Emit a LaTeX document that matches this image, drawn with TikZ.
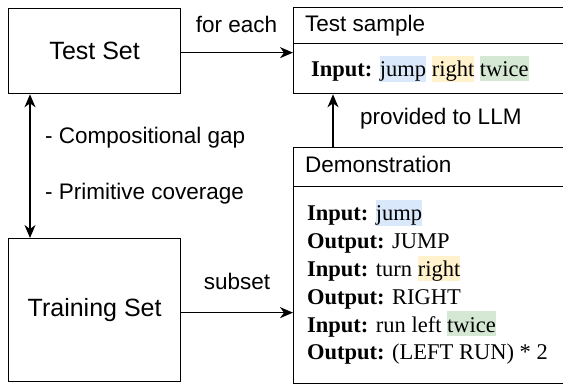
\documentclass[tikz,border=0pt]{standalone}
\usepackage{fontspec}
\setmainfont{Liberation Serif}
\newfontfamily\arialf{Liberation Sans}
\usetikzlibrary{arrows.meta,calc}
\definecolor{hlblue}{HTML}{DAE8FC}
\definecolor{hlorange}{HTML}{FFF2CC}
\definecolor{hlgreen}{HTML}{D5E8D4}
\newcommand{\hlt}[2]{{\setlength{\fboxsep}{0pt}\colorbox{#1}{\rule[-4pt]{0pt}{25pt}#2}}}
\tikzset{
  boxst/.style={draw, line width=1.3pt, inner sep=0pt, anchor=north west, font=\arialf\fontsize{25}{30}\selectfont},
  lbl/.style={inner sep=0pt, font=\arialf\fontsize{22.5}{27}\selectfont},
  txt/.style={inner sep=0pt, anchor=base west, font=\fontsize{22.5}{27}\selectfont},
  arr/.style={line width=1.3pt, -{Stealth[length=13pt,width=11pt,inset=4pt]}},
  darr/.style={line width=1.3pt, {Stealth[length=13pt,width=11pt,inset=4pt]}-{Stealth[length=13pt,width=11pt,inset=4pt]}},
}
\begin{document}
\begin{tikzpicture}[x=1pt,y=-1pt]
\useasboundingbox (0,0) rectangle (563,385);
\clip (0,0) rectangle (563,385);
% left boxes
\node[boxst, minimum width=172pt, minimum height=85pt] (testset) at (8,8) {Test Set};
\node[boxst, minimum width=172pt, minimum height=143pt] (trainset) at (8,238) {Training Set};
% test sample
\node[boxst, minimum width=285pt, minimum height=36pt] (tshead) at (293,7) {};
\node[boxst, minimum width=285pt, minimum height=50pt] (tsbody) at (293,43) {};
\node[lbl, anchor=base west] (tstitle) at (305,32) {Test sample};
\node[txt] (tsin) at (311,77) {\textbf{Input:} \hlt{hlblue}{jump} \hlt{hlorange}{right} \hlt{hlgreen}{twice}};
% demonstration
\node[boxst, minimum width=285pt, minimum height=39pt] (dmhead) at (293,147) {};
\node[boxst, minimum width=285pt, minimum height=197pt] (dmbody) at (293,186) {};
\node[lbl, anchor=base west] (dmtitle) at (305,173) {Demonstration};
\node[txt] (d1) at (307,221) {\textbf{Input:} \hlt{hlblue}{jump}};
\node[txt] (d2) at (307,249) {\textbf{Output:} JUMP};
\node[txt] (d3) at (307,276.5) {\textbf{Input:} turn \hlt{hlorange}{right}};
\node[txt] (d4) at (307,305) {\textbf{Output:} RIGHT};
\node[txt] (d5) at (307,332) {\textbf{Input:} run left \hlt{hlgreen}{twice}};
\node[txt] (d6) at (307,359) {\textbf{Output:} (LEFT RUN) * 2};
% connectors
\draw[arr] ($(testset.east)+(0,1.5)$) -- ($(testset.east -| tsbody.west)+(0,1.5)$);
\node[lbl, anchor=base] (foreach) at (236.5,33) {for each};
\draw[arr] ($(trainset.east)+(0,2.5)$) -- ($(trainset.east -| dmbody.west)+(0,2.5)$);
\node[lbl, anchor=base] (subset) at (237,290) {subset};
\draw[arr] ($(dmhead.north west)+(40,0)$) -- ($(tsbody.south west)+(40,0)$);
\node[lbl, anchor=base west] (prov) at (360,125) {provided to LLM};
\draw[darr] ($(testset.south west)+(22,0)$) -- ($(trainset.north west)+(22,0)$);
\node[lbl, anchor=base west] (cg) at (45,144) {- Compositional gap};
\node[lbl, anchor=base west] (pc) at (45,200) {- Primitive coverage};
\end{tikzpicture}
\end{document}
